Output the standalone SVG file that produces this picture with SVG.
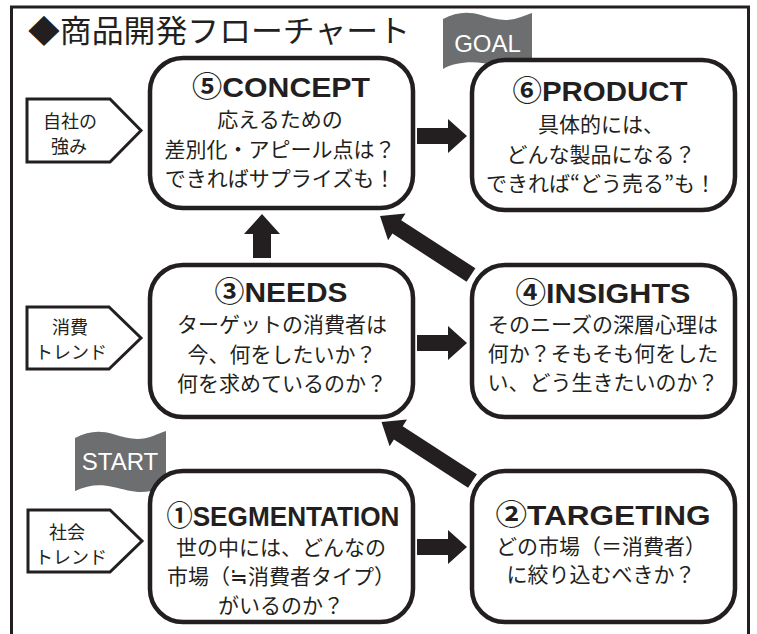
<svg xmlns="http://www.w3.org/2000/svg" width="757" height="634" viewBox="0 0 757 634">
<style>
.box{fill:#fff;stroke:#231f20;stroke-width:4.5}
.pent{fill:#fff;stroke:#231f20;stroke-width:3}
.flag{fill:#6d6e70}
.arr{fill:#231f20}
.t{font-family:"Liberation Sans","Noto Sans CJK JP",sans-serif;font-weight:bold;font-size:28px;fill:#231f20;text-anchor:middle}
.b{font-family:"Noto Sans CJK JP",sans-serif;font-size:21px;fill:#231f20;text-anchor:middle}
.s{font-family:"Noto Sans CJK JP",sans-serif;font-size:18px;fill:#231f20;text-anchor:middle}
.f{font-family:"Liberation Sans",Arial,sans-serif;font-size:24px;fill:#fff;text-anchor:middle}
</style>
<rect width="757" height="634" fill="#fff"/>
<path d="M11.5,634 V7 H748.5 V634" fill="none" stroke="#231f20" stroke-width="3"/>
<text x="28" y="42" font-family="'Noto Sans CJK JP',sans-serif" font-size="31" fill="#231f20" textLength="382" lengthAdjust="spacingAndGlyphs">◆商品開発フローチャート</text>

<g id="flag-goal">
<path class="flag" d="M443,19 C456,12 468,11 481,15 C496,20 508,22 521,17 C526,15 529,14 532,13 L532,64 C520,67 508,69 496,66 C482,62 470,61 456,64 C450,65 446,67 443,69 Z"/>
<text class="f" x="487.5" y="52" font-size="25">GOAL</text>
</g>
<g id="flag-start">
<path class="flag" d="M75,438 C88,431 100,430 113,434 C128,439 140,441 153,436 C158,434 162,432 166,431 L166,486 C160,488 156,490 151,491 C138,494 127,490 113,487 C100,484 88,485 75,491 Z"/>
<text class="f" x="120" y="470" font-size="23">START</text>
</g>

<g id="connectors">
<polygon class="arr" points="417,128 448,128 448,119 467,136 448,153 448,144 417,144"/>
<polygon class="arr" points="417,335 448,335 448,326 467,343 448,360 448,351 417,351"/>
<polygon class="arr" points="417,539 448,539 448,530 467,547 448,564 448,555 417,555"/>
<polygon class="arr" points="253,258 253,234 244,234 262,214 280,234 271,234 271,258"/>
<polygon class="arr" points="380,216 405.5,213.5 401.2,220.2 475.4,268.3 466.6,281.7 392.4,233.6 388.1,240.3"/>
<polygon class="arr" points="381.5,422 407,419.5 402.7,426.2 476.9,474.3 468.1,487.7 393.9,439.6 389.6,446.3"/>
</g>

<g id="side-strength">
<polygon class="pent" points="27,99 110,99 141,130.5 110,162 27,162"/>
<text class="s" x="70" y="127.5">自社の</text>
<text class="s" x="69" y="152.5">強み</text>
</g>
<g id="side-consumer">
<polygon class="pent" points="27,307 109,307 141,338 109,369 27,369"/>
<text class="s" x="70" y="334">消費</text>
<text class="s" x="71" y="359">トレンド</text>
</g>
<g id="side-social">
<polygon class="pent" points="28,510 110,510 142,541 110,572 28,572"/>
<text class="s" x="67" y="538.5">社会</text>
<text class="s" x="71" y="563.5">トレンド</text>
</g>

<g id="node-concept">
<rect class="box" x="150" y="58" width="263" height="150" rx="33"/>
<text class="t" x="281" y="97" textLength="178" lengthAdjust="spacingAndGlyphs">⑤CONCEPT</text>
<text class="b" x="280" y="127">応えるための</text>
<text class="b" x="280" y="156.5">差別化・アピール点は？</text>
<text class="b" x="280" y="186">できればサプライズも！</text>
</g>
<g id="node-product">
<rect class="box" x="472" y="60" width="263" height="150" rx="33"/>
<text class="t" x="600" y="101" textLength="175" lengthAdjust="spacingAndGlyphs">⑥PRODUCT</text>
<text class="b" x="601" y="132">具体的には、</text>
<text class="b" x="601" y="161.5">どんな製品になる？</text>
<text class="b" x="601" y="191">できれば“どう売る”も！</text>
</g>
<g id="node-needs">
<rect class="box" x="150" y="265" width="263" height="152" rx="33"/>
<text class="t" x="281" y="302" textLength="133" lengthAdjust="spacingAndGlyphs">③NEEDS</text>
<text class="b" x="282" y="332">ターゲットの消費者は</text>
<text class="b" x="282" y="362">今、何をしたいか？</text>
<text class="b" x="282" y="391">何を求めているのか？</text>
</g>
<g id="node-insights">
<rect class="box" x="472" y="265" width="263" height="152" rx="33"/>
<text class="t" x="603" y="303" textLength="175" lengthAdjust="spacingAndGlyphs">④INSIGHTS</text>
<text class="b" x="603" y="332">そのニーズの深層心理は</text>
<text class="b" x="603" y="361">何か？そもそも何をした</text>
<text class="b" x="603" y="390">い、どう生きたいのか？</text>
</g>
<g id="node-segmentation">
<rect class="box" x="150" y="471" width="263" height="151" rx="33"/>
<text class="t" x="283" y="526" textLength="233" lengthAdjust="spacingAndGlyphs">①SEGMENTATION</text>
<text class="b" x="281" y="555">世の中には、どんなの</text>
<text class="b" x="281" y="584">市場（≒消費者タイプ）</text>
<text class="b" x="281" y="613">がいるのか？</text>
</g>
<g id="node-targeting">
<rect class="box" x="472" y="471" width="263" height="151" rx="33"/>
<text class="t" x="603" y="525" textLength="215" lengthAdjust="spacingAndGlyphs">②TARGETING</text>
<text class="b" x="601" y="554">どの市場（＝消費者）</text>
<text class="b" x="601" y="582">に絞り込むべきか？</text>
</g>
</svg>
